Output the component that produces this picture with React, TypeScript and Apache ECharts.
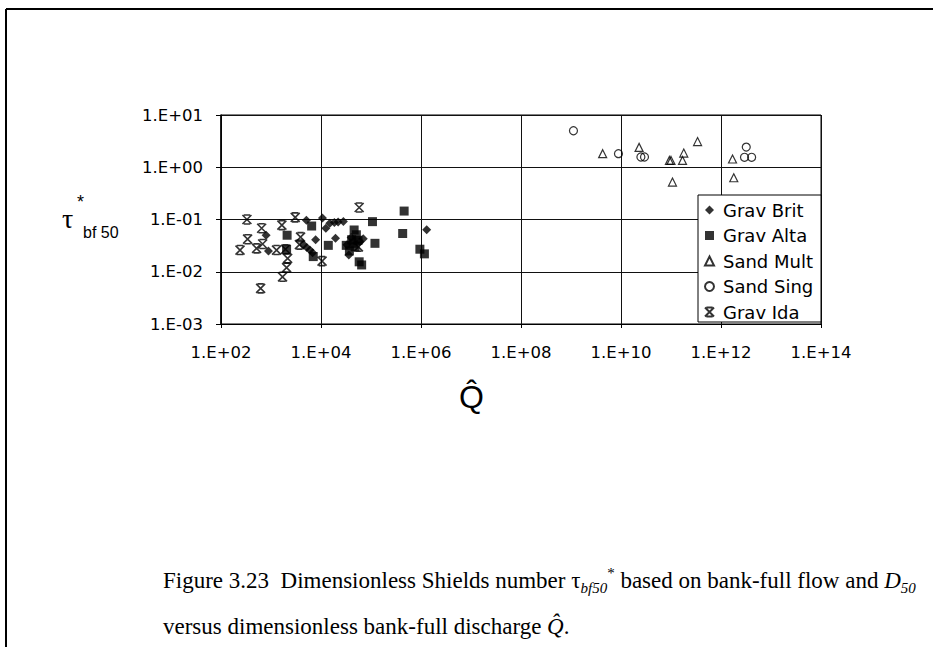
import React, { useEffect, useRef } from "react";
import * as echarts from "echarts";

// Dimensionless bank-full discharge Q^ (x) and Shields number tau*_bf50 (y)
const gravBrit: [number, number][] = [
  [800, 0.05], [890, 0.025], [5100, 0.097], [4500, 0.033], [5200, 0.029],
  [6000, 0.026], [6800, 0.023], [7800, 0.041], [10700, 0.107], [12500, 0.068],
  [15000, 0.085], [18500, 0.088], [22000, 0.09], [28000, 0.092], [19500, 0.044],
  [36000, 0.021], [70000, 0.043], [40000, 0.045], [60000, 0.038], [33000, 0.033],
  [1.3e6, 0.064],
];
const gravAlta: [number, number][] = [
  [2100, 0.05], [2050, 0.027], [6500, 0.075], [7000, 0.0195], [14000, 0.032],
  [1.07e5, 0.091], [1.2e5, 0.035], [4.6e5, 0.145], [4.3e5, 0.054], [9.5e5, 0.027],
  [1.17e6, 0.022], [65000, 0.0135], [58000, 0.0155], [46000, 0.063], [51000, 0.051],
  [41000, 0.041], [32000, 0.032], [48000, 0.03], [37000, 0.025], [55000, 0.04],
  [44000, 0.035],
];
const sandMult: [number, number][] = [
  [4.3e9, 1.82], [2.3e10, 2.4], [9.3e10, 1.35], [1.0e11, 1.35], [1.8e11, 1.87],
  [1.7e11, 1.35], [3.4e11, 3.1], [1.07e11, 0.52], [1.7e12, 1.44], [1.8e12, 0.63],
];
const sandSing: [number, number][] = [
  [1.12e9, 5.0], [8.9e9, 1.82], [2.5e10, 1.57], [2.95e10, 1.57], [3.2e12, 2.43],
  [2.95e12, 1.55], [4.1e12, 1.55],
];
const gravIda: [number, number][] = [
  [330, 0.1], [340, 0.042], [240, 0.026], [650, 0.068], [680, 0.034],
  [515, 0.028], [620, 0.0048], [1290, 0.026], [1650, 0.078], [1950, 0.027],
  [2150, 0.018], [2050, 0.012], [1700, 0.008], [3050, 0.11], [3900, 0.046],
  [3700, 0.033], [10500, 0.016], [58000, 0.17], [56000, 0.03],
];

const seriesNames = ["Grav Brit", "Grav Alta", "Sand Mult", "Sand Sing", "Grav Ida"];

// asterisk-style marker: a cross capped top and bottom
const starPath = "path://M0,0L10,10M10,0L0,10M1.5,0L8.5,0M1.5,10L8.5,10";

const sciLabel = (v: number) => {
  const e = Math.round(Math.log10(v));
  return "1.E" + (e < 0 ? "-" : "+") + String(Math.abs(e)).padStart(2, "0");
};

const serif = "Liberation Serif";
const captionRich = {
  t: { fontFamily: serif, fontSize: 23, lineHeight: 30, color: "#000" },
  it: { fontFamily: serif, fontStyle: "italic", fontSize: 23, lineHeight: 30, color: "#000" },
  sub: { fontFamily: serif, fontStyle: "italic", fontSize: 15, lineHeight: 15, verticalAlign: "bottom", color: "#000" },
  sup: { fontFamily: serif, fontSize: 15, lineHeight: 15, verticalAlign: "top", color: "#000" },
};

export default function App() {
  const ref = useRef<HTMLDivElement>(null);

  useEffect(() => {
    document.body.style.margin = "0";
    const chart = echarts.init(ref.current!, null, { renderer: "svg" });
    const tickFont = { fontFamily: "DejaVu Sans", fontSize: 16.5, color: "#000" };
    const hollow = { color: "rgba(0,0,0,0)", borderColor: "#000", borderWidth: 1.2 };
    chart.setOption({
      animation: false,
      backgroundColor: "#fff",
      grid: {
        left: 221, top: 115, width: 600, height: 209,
        show: true, borderColor: "#000", borderWidth: 1,
      },
      xAxis: {
        type: "log", logBase: 10, min: 1e2, max: 1e14, interval: 2,
        axisLine: { show: true, lineStyle: { color: "#000", width: 1 } },
        axisTick: { show: true, length: 4, lineStyle: { color: "#000" } },
        axisLabel: { ...tickFont, margin: 20, formatter: sciLabel },
        splitLine: { show: true, lineStyle: { color: "#111", width: 1 } },
        minorTick: { show: false },
      },
      yAxis: {
        type: "log", logBase: 10, min: 1e-3, max: 1e1, interval: 1,
        axisLine: { show: true, lineStyle: { color: "#000", width: 1.5 } },
        axisTick: { show: true, length: 5, lineStyle: { color: "#000" } },
        axisLabel: { ...tickFont, margin: 18, formatter: sciLabel },
        splitLine: { show: true, lineStyle: { color: "#111", width: 1 } },
      },
      legend: {
        orient: "vertical", left: 704, top: 201, padding: 0,
        itemWidth: 9, itemHeight: 9, itemGap: 7.5,
        textStyle: { fontFamily: "DejaVu Sans", fontSize: 18, color: "#000", padding: [0, 0, 0, 4] },
        data: seriesNames,
        z: 5,
      },
      graphic: [
        { type: "line", shape: { x1: 6, y1: 9, x2: 933, y2: 9 }, style: { stroke: "#000", lineWidth: 2 } },
        { type: "line", shape: { x1: 6, y1: 9, x2: 6, y2: 647 }, style: { stroke: "#000", lineWidth: 2 } },
        {
          type: "rect", z: 3,
          shape: { x: 698, y: 195, width: 123, height: 127 },
          style: { fill: "#fff", stroke: "#000", lineWidth: 1 },
        },
        {
          type: "text", left: 62, top: 204,
          style: { text: "τ", font: "28px 'Liberation Serif'", fill: "#000" },
        },
        {
          type: "text", left: 77, top: 193,
          style: { text: "*", font: "18px 'Liberation Sans'", fill: "#000" },
        },
        {
          type: "text", left: 83, top: 224,
          style: { text: "bf 50", font: "16px 'Liberation Sans'", fill: "#000" },
        },
        {
          type: "text", left: 459, top: 381,
          style: { text: "Q\u0302", font: "32px 'Liberation Sans'", fill: "#000" },
        },
        {
          type: "text", left: 163, top: 565,
          style: {
            text: "{t|Figure 3.23  Dimensionless Shields number τ}{sub|bf50}{sup|*}{t| based on bank-full flow and }{it|D}{sub|50}",
            rich: captionRich,
          },
        },
        {
          type: "text", left: 163, top: 615,
          style: {
            text: "{t|versus dimensionless bank-full discharge }{it|Q\u0302}{t|.}",
            rich: captionRich,
          },
        },
      ],
      series: [
        { name: "Grav Brit", type: "scatter", data: gravBrit, symbol: "diamond", symbolSize: 9, itemStyle: { color: "#000" } },
        { name: "Grav Alta", type: "scatter", data: gravAlta, symbol: "rect", symbolSize: 9, itemStyle: { color: "#000" } },
        { name: "Sand Mult", type: "scatter", data: sandMult, symbol: "triangle", symbolSize: 8, itemStyle: hollow },
        { name: "Sand Sing", type: "scatter", data: sandSing, symbol: "circle", symbolSize: 8, itemStyle: hollow },
        {
          name: "Grav Ida", type: "scatter", data: gravIda, symbol: starPath, symbolSize: 9,
          itemStyle: { color: "rgba(0,0,0,0)", borderColor: "#000", borderWidth: 1.6 },
        },
      ],
    });
    return () => chart.dispose();
  }, []);

  return <div ref={ref} style={{ width: 933, height: 647 }} />;
}
